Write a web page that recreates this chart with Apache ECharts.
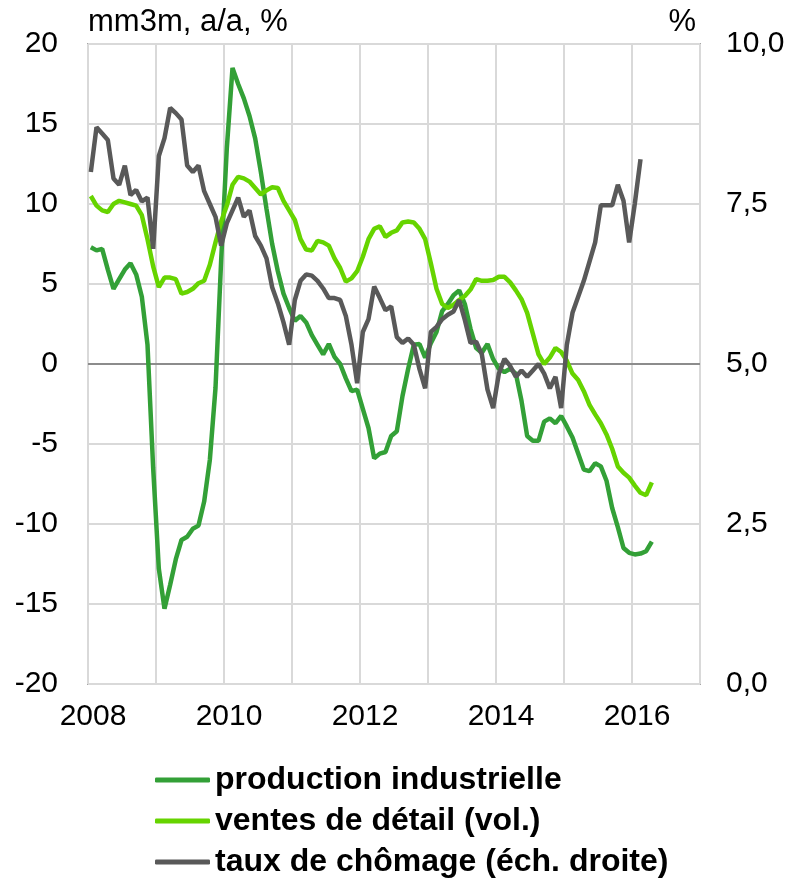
<!DOCTYPE html>
<html>
<head>
<meta charset="utf-8">
<script src="https://cdn.jsdelivr.net/npm/echarts@6/dist/echarts.min.js"></script>
<style>
  html, body { margin: 0; padding: 0; background: #fff; }
  #chart { width: 794px; height: 883px; }
</style>
</head>
<body>
<div id="chart"></div>
<script>
// monthly data, first observation = janvier 2008
var startYear = 2008;
var yearTicks = [2008, 2010, 2012, 2014, 2016];

// production industrielle, mm3m a/a, %
var production = [
  7.3, 7.1, 7.2, 5.9, 4.7, 5.3, 5.9, 6.3, 5.6, 4.2, 1.2, -6.5,
  -12.8, -15.3, -13.8, -12.2, -11.0, -10.8, -10.3, -10.1, -8.6, -6.0, -1.5, 6.5,
  13.5, 18.5, 17.5, 16.6, 15.5, 14.1, 12.0, 9.7, 7.5, 5.8, 4.4, 3.5,
  2.7, 3.0, 2.6, 1.8, 1.2, 0.6, 1.25, 0.45, 0.0, -0.9, -1.7, -1.6,
  -2.8, -4.0, -5.9, -5.6, -5.5, -4.5, -4.2, -2.0, -0.3, 1.2, 1.25, 0.4,
  1.3, 2.0, 3.3, 3.75, 4.3, 4.6, 3.75, 2.2, 1.0, 0.7, 1.25, 0.3,
  -0.3, -0.5, -0.3, -0.6, -2.3, -4.5, -4.8, -4.8, -3.6, -3.4, -3.7, -3.25,
  -3.9, -4.6, -5.6, -6.6, -6.7, -6.2, -6.4, -7.3, -9.0, -10.2, -11.5, -11.8,
  -11.9, -11.85, -11.7, -11.1
];

// ventes de détail (vol.), mm3m a/a, %
var retail = [
  10.5, 9.9, 9.6, 9.5, 10.0, 10.2, 10.1, 10.0, 9.9, 9.3, 7.8, 6.1,
  4.8, 5.4, 5.4, 5.3, 4.4, 4.5, 4.7, 5.05, 5.2, 6.2, 7.6, 8.9,
  9.9, 11.2, 11.7, 11.6, 11.4, 11.0, 10.6, 10.85, 11.05, 11.0, 10.2, 9.6,
  9.0, 7.8, 7.15, 7.1, 7.7, 7.6, 7.4, 6.6, 6.0, 5.15, 5.35, 5.8,
  6.7, 7.8, 8.45, 8.6, 7.95, 8.2, 8.35, 8.85, 8.9, 8.85, 8.45, 7.8,
  6.3, 4.7, 3.75, 3.5, 3.7, 4.0, 4.25, 4.65, 5.3, 5.2, 5.2, 5.25,
  5.45, 5.45, 5.1, 4.6, 4.05, 3.2, 1.9, 0.6, 0.0, 0.4, 1.0, 0.75,
  0.2, -0.6, -1.0, -1.7, -2.55, -3.15, -3.7, -4.4, -5.3, -6.4, -6.8, -7.1,
  -7.6, -8.05, -8.2, -7.4
];

// taux de chômage, %, échelle de droite
var unemployment = [
  8.0, 8.7, 8.6, 8.5, 7.9, 7.8, 8.1, 7.64, 7.72, 7.54, 7.6, 6.8,
  8.25, 8.53, 9.0, 8.92, 8.82, 8.1, 8.0, 8.1, 7.7, 7.5, 7.3, 6.85,
  7.2, 7.4, 7.6, 7.3, 7.4, 7.0, 6.85, 6.65, 6.2, 5.95, 5.65, 5.3,
  6.0, 6.3, 6.4, 6.38, 6.3, 6.18, 6.03, 6.03, 6.0, 5.75, 5.3, 4.7,
  5.5, 5.7, 6.21, 6.03, 5.84, 5.9, 5.42, 5.33, 5.4, 5.3, 4.92, 4.62,
  5.5, 5.58, 5.7, 5.77, 5.82, 6.0, 5.69, 5.33, 5.35, 5.15, 4.6, 4.31,
  4.85, 5.08, 4.97, 4.8, 4.9, 4.8, 4.9, 5.0, 4.85, 4.62, 4.8, 4.31,
  5.3, 5.8, 6.05, 6.3, 6.6, 6.9, 7.48, 7.48, 7.48, 7.8, 7.55, 6.9,
  7.51, 8.2
];

// each month is dated at mid-month
function toPairs(values) {
  return values.map(function (v, i) {
    return [startYear + (i + 0.5) / 12, v];
  });
}

var fontFamily = '"Liberation Sans", Arial, sans-serif';
var colProd = '#33A037';
var colRetail = '#66D400';
var colUnemp = '#595959';

var myChart = echarts.init(document.getElementById('chart'));

var option = {
  animation: false,
  textStyle: { fontFamily: fontFamily },
  grid: {
    left: 88,
    right: 94,
    top: 44,
    bottom: 199,
    show: true,
    borderColor: '#a6a6a6',
    borderWidth: 2
  },
  legend: {
    orient: 'vertical',
    left: 155,
    top: 764,
    padding: 0,
    itemWidth: 55,
    itemHeight: 5,
    itemGap: 9,
    icon: 'roundRect',
    textStyle: {
      fontSize: 32,
      fontWeight: 'bold',
      color: '#000',
      fontFamily: fontFamily
    },
    data: ['production industrielle', 'ventes de détail (vol.)', 'taux de chômage (éch. droite)']
  },
  xAxis: {
    type: 'value',
    min: 2008,
    max: 2017,
    interval: 1,
    axisLine: { show: false },
    axisTick: { show: false },
    splitLine: { show: true, lineStyle: { color: '#d9d9d9', width: 2 } },
    axisLabel: {
      fontSize: 30,
      color: '#000',
      margin: 18,
      padding: [0, 0, 0, 10],
      formatter: function (v) {
        return yearTicks.indexOf(v) >= 0 ? String(v) : '';
      }
    }
  },
  yAxis: [
    {
      type: 'value',
      min: -20,
      max: 20,
      interval: 5,
      name: 'mm3m, a/a, %',
      nameLocation: 'end',
      nameGap: 6,
      nameTextStyle: { fontSize: 31, color: '#000', align: 'left' },
      axisLine: { show: false },
      axisTick: { show: false },
      splitLine: { show: true, lineStyle: { color: '#d9d9d9', width: 2 } },
      axisLabel: { fontSize: 30, color: '#000', margin: 30 }
    },
    {
      type: 'value',
      min: 0,
      max: 10,
      interval: 2.5,
      name: '%',
      nameLocation: 'end',
      nameGap: 6,
      nameTextStyle: { fontSize: 31, color: '#000', align: 'right', padding: [0, 4, 0, 0] },
      axisLine: { show: false },
      axisTick: { show: false },
      splitLine: { show: false },
      axisLabel: {
        fontSize: 30,
        color: '#000',
        margin: 26,
        formatter: function (v) { return v.toFixed(1).replace('.', ','); }
      }
    }
  ],
  series: [
    {
      name: 'production industrielle',
      type: 'line',
      yAxisIndex: 0,
      showSymbol: false,
      z: 3,
      lineStyle: { color: colProd, width: 4.5 },
      itemStyle: { color: colProd },
      data: toPairs(production),
      markLine: {
        silent: true,
        symbol: 'none',
        label: { show: false },
        lineStyle: { color: '#8c8c8c', width: 2, type: 'solid' },
        data: [{ yAxis: 0 }],
        z: 1
      }
    },
    {
      name: 'ventes de détail (vol.)',
      type: 'line',
      yAxisIndex: 0,
      showSymbol: false,
      z: 4,
      lineStyle: { color: colRetail, width: 4.5 },
      itemStyle: { color: colRetail },
      data: toPairs(retail)
    },
    {
      name: 'taux de chômage (éch. droite)',
      type: 'line',
      yAxisIndex: 1,
      showSymbol: false,
      z: 5,
      lineStyle: { color: colUnemp, width: 4.5 },
      itemStyle: { color: colUnemp },
      data: toPairs(unemployment)
    }
  ]
};

myChart.setOption(option);
</script>
</body>
</html>
